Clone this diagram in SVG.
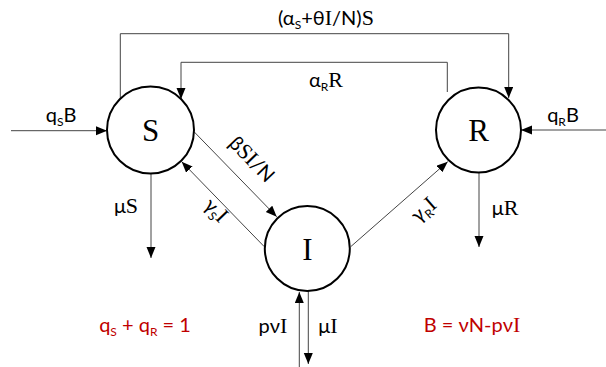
<svg xmlns="http://www.w3.org/2000/svg" width="606" height="367" viewBox="0 0 606 367">
<style>
.node{fill:#fff;stroke:#000;stroke-width:2}
.c{fill:none;stroke:#444;stroke-width:1}
.t{font-family:Lato,"Liberation Sans",sans-serif;font-size:20px;fill:#000}
.m{font-family:"Liberation Serif",serif;font-size:22px}
.big{font-family:"Liberation Serif",serif;font-size:31px;fill:#000}
.sub{font-size:12px}
.red{fill:#C00000}
</style>
<defs>
<marker id="a" markerUnits="userSpaceOnUse" markerWidth="12" markerHeight="10" refX="11" refY="4.5" orient="auto">
<path d="M0,0 L11,4.5 L0,9 z" fill="#000"/>
</marker>
</defs>
<rect width="606" height="367" fill="#fff"/>
<g id="connectors">
<path class="c" d="M120.3,99 V33.7 H508.7 V98" marker-end="url(#a)"/>
<path class="c" d="M447.3,92 V62.3 H181 V99" marker-end="url(#a)"/>
<path class="c" d="M11,130.7 H107" marker-end="url(#a)"/>
<path class="c" d="M606,130 H521" marker-end="url(#a)"/>
<path class="c" d="M194,131.7 L276.7,216.7" marker-end="url(#a)"/>
<path class="c" d="M264.3,246.7 L181.7,161.7" marker-end="url(#a)"/>
<path class="c" d="M350.7,246.7 L447.7,161.7" marker-end="url(#a)"/>
<path class="c" d="M151,173 V258" marker-end="url(#a)"/>
<path class="c" d="M479,173 V247" marker-end="url(#a)"/>
<path class="c" d="M299.3,367 V292" marker-end="url(#a)"/>
<path class="c" d="M308.3,291 V364" marker-end="url(#a)"/>
</g>
<g id="S"><circle class="node" cx="150.5" cy="130" r="43.5"/><text class="big" x="150.5" y="141" text-anchor="middle">S</text></g>
<g id="R"><circle class="node" cx="478.5" cy="130" r="42.5"/><text class="big" x="478.5" y="141" text-anchor="middle">R</text></g>
<g id="I"><circle class="node" cx="307.3" cy="248.5" r="42.5"/><text class="big" x="307.3" y="259.5" text-anchor="middle">I</text></g>
<g id="labels">
<text class="t" x="326" y="25" text-anchor="middle">(α<tspan class="sub" dy="4">S</tspan><tspan dy="-4">+θ</tspan><tspan class="m">I</tspan>/N)<tspan class="m">S</tspan></text>
<text class="t" x="326" y="87" text-anchor="middle">α<tspan class="sub" dy="4">R</tspan><tspan class="m" dy="-4">R</tspan></text>
<text class="t" x="61" y="122" text-anchor="middle">q<tspan class="sub" dy="4">S</tspan><tspan dy="-4">B</tspan></text>
<text class="t" x="563" y="122" text-anchor="middle">q<tspan class="sub" dy="4">R</tspan><tspan dy="-4">B</tspan></text>
<text class="t" x="126" y="213" text-anchor="middle">μ<tspan class="m">S</tspan></text>
<text class="t" x="505" y="215" text-anchor="middle">μ<tspan class="m">R</tspan></text>
<text class="t" transform="translate(247,164) rotate(45.8)" text-anchor="middle">β<tspan class="m">SI</tspan>/N</text>
<text class="t" transform="translate(211,215) rotate(45.8)" text-anchor="middle">γ<tspan class="sub" dy="4">S</tspan><tspan class="m" dy="-4">I</tspan></text>
<text class="t" transform="translate(428,215) rotate(-41.2)" text-anchor="middle">γ<tspan class="sub" dy="4">R</tspan><tspan class="m" dy="-4">I</tspan></text>
<text class="t" x="273" y="333" text-anchor="middle">pν<tspan class="m">I</tspan></text>
<text class="t" x="328" y="333" text-anchor="middle">μ<tspan class="m">I</tspan></text>
<text class="t red" x="145" y="332" text-anchor="middle">q<tspan class="sub" dy="4">S</tspan><tspan dy="-4"> + q</tspan><tspan class="sub" dy="4">R</tspan><tspan dy="-4"> = 1</tspan></text>
<text class="t red" x="472" y="332" text-anchor="middle">B = νN-pν<tspan class="m">I</tspan></text>
</g>
</svg>
